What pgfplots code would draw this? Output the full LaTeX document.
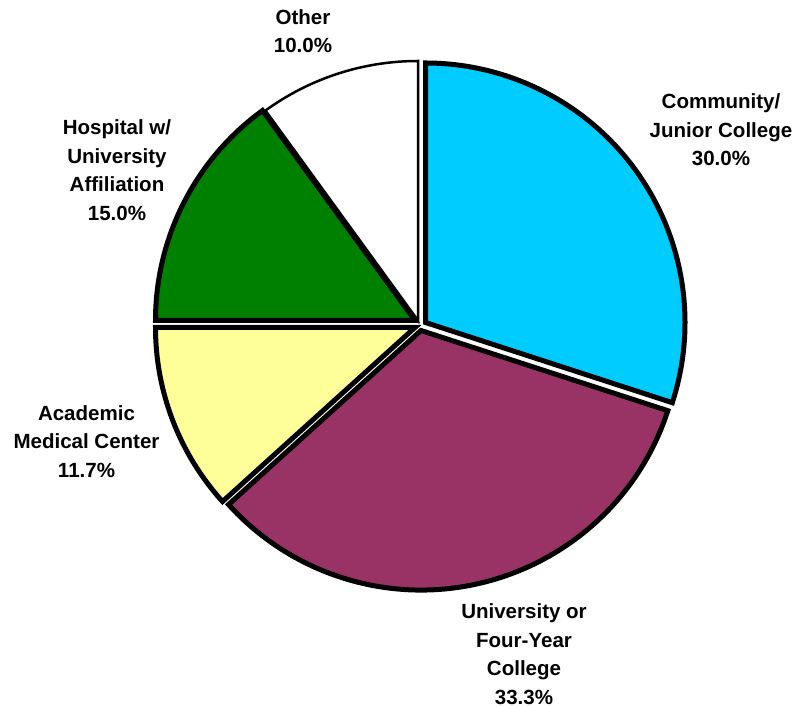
\documentclass[border=0pt]{standalone}
\usepackage{pgfplots}
\usepackage{pgfplotstable}
\pgfplotsset{compat=1.18}
\usepackage{fontspec}
\setmainfont{Liberation Sans}
\definecolor{comm}{HTML}{00CCFF}
\definecolor{univ}{HTML}{993366}
\definecolor{acad}{HTML}{FFFF99}
\definecolor{hosp}{HTML}{008000}
\definecolor{othr}{HTML}{FFFFFF}
\tikzset{lbl/.style={font=\bfseries\fontsize{20.6}{28.6}\selectfont,align=center,inner sep=0pt}}

% share (%), explode offset dx dy (px, y down), border width, colour
\pgfplotstableread{
value dx dy lw col
30.0 6.5 -1.5 5 comm
33.3 2.0 6.5 5 univ
11.7 -4.0 3.5 5 acad
15.0 -4.0 -3.5 5 hosp
10.0 -1.0 -3.5 2.5 othr
}\piedata

\newcommand\pieR{259.5}
\newcommand\pieCX{419}
\newcommand\pieCY{324}

\begin{document}
\begin{tikzpicture}
\begin{axis}[x=1bp,y=1bp,xmin=0,xmax=798,ymin=0,ymax=707,
  hide axis,clip=false,disabledatascaling,scale only axis]
\coordinate (ll) at (axis cs:0,0);
\coordinate (ur) at (axis cs:798,707);
\pgfplotsextra{
  \gdef\cum{0}
  \pgfplotstablegetrowsof{\piedata}
  \pgfmathtruncatemacro\nrows{\pgfplotsretval-1}
  \foreach \i in {0,...,\nrows}{
    \pgfplotstablegetelem{\i}{value}\of\piedata \edef\v{\pgfplotsretval}
    \pgfplotstablegetelem{\i}{dx}\of\piedata \edef\dx{\pgfplotsretval}
    \pgfplotstablegetelem{\i}{dy}\of\piedata \edef\dy{\pgfplotsretval}
    \pgfplotstablegetelem{\i}{lw}\of\piedata \edef\lw{\pgfplotsretval}
    \pgfplotstablegetelem{\i}{col}\of\piedata \edef\col{\pgfplotsretval}
    \pgfmathsetmacro\sa{90-3.6*\cum}
    \pgfmathsetmacro\ea{\sa-3.6*\v}
    \pgfmathsetmacro\cx{\pieCX+\dx}
    \pgfmathsetmacro\cy{707-\pieCY-\dy}
    \filldraw[fill=\col,draw=black,line width=\lw bp,line join=miter,miter limit=20]
      (axis cs:\cx,\cy) -- ++(\sa:\pieR bp)
      arc[start angle=\sa,end angle=\ea,radius=\pieR bp] -- cycle;
    \pgfmathsetmacro\newcum{\cum+\v}
    \xdef\cum{\newcum}
  }
}
\node[lbl] at (axis cs:303,676) {Other\\10.0\%};
\node[lbl] at (axis cs:721,577) {Community/\\Junior College\\30.0\%};
\node[lbl] at (axis cs:524,53) {University or\\Four-Year\\College\\33.3\%};
\node[lbl] at (axis cs:86.5,265.5) {Academic\\Medical Center\\11.7\%};
\node[lbl] at (axis cs:117,537) {Hospital w/\\University\\Affiliation\\15.0\%};
\end{axis}
\pgfresetboundingbox
\path (ll) rectangle (ur);
\end{tikzpicture}
\end{document}
